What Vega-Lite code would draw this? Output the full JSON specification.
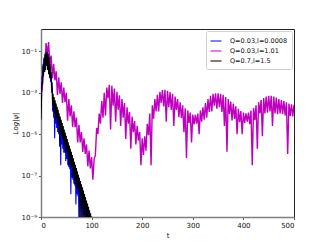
{
"$schema": "https://vega.github.io/schema/vega-lite/v6.json",
"autosize": {"type": "none"},
"padding": {"left": 41, "top": 29, "right": 33, "bottom": 28},
"width": 253,
"height": 188,
"datasets": {
"blue": [
{"t":0,"v":2.5e-4},{"t":1,"v":1.0e-3},{"t":2,"v":6.3e-3},{"t":3,"v":3.2e-3},{"t":4,"v":2.5e-2},{"t":5,"v":7.9e-3},{"t":6,"v":5.0e-2},{"t":7,"v":1.26e-2},{"t":8,"v":7.9e-2},{"t":9,"v":1.6e-2},
{"t":10,"v":0.105},{"t":11,"v":2.5e-2},{"t":12,"v":0.112},{"t":13,"v":1.6e-2},{"t":14,"v":7.9e-2},{"t":15,"v":1.0e-2},{"t":16,"v":4.5e-2},{"t":17,"v":5.0e-3},{"t":18,"v":2.0e-2},{"t":19,"v":3.2e-3},
{"t":20,"v":7.9e-3},{"t":21,"v":1.0e-3},{"t":22,"v":2.0e-3},{"t":23,"v":1.26e-4},{"t":24,"v":6.3e-4},{"t":25,"v":6.3e-5},{"t":26,"v":4.4e-4},{"t":27,"v":6.3e-6},{"t":28,"v":3.1e-4},{"t":29,"v":3.2e-5},
{"t":30,"v":2.1e-4},{"t":31,"v":2.0e-5},{"t":32,"v":1.5e-4},{"t":33,"v":1.26e-5},{"t":34,"v":1.05e-4},{"t":35,"v":1.0e-5},{"t":36,"v":7.2e-5},{"t":37,"v":5.0e-6},{"t":38,"v":5.1e-5},{"t":39,"v":3.2e-7},
{"t":40,"v":3.5e-5},{"t":41,"v":3.2e-6},{"t":42,"v":2.5e-5},{"t":43,"v":2.0e-6},{"t":44,"v":1.7e-5},{"t":45,"v":1.26e-6},{"t":46,"v":1.2e-5},{"t":47,"v":1.26e-6},{"t":48,"v":8.5e-6},{"t":49,"v":5.0e-7},
{"t":50,"v":5.9e-6},{"t":51,"v":6.3e-7},{"t":52,"v":4.2e-6},{"t":53,"v":3.2e-7},{"t":54,"v":2.9e-6},{"t":55,"v":2.5e-7},{"t":56,"v":2.0e-6},{"t":57,"v":2.0e-7},{"t":58,"v":1.4e-6},{"t":59,"v":1.26e-8},
{"t":60,"v":9.8e-7},{"t":61,"v":7.9e-8},{"t":62,"v":6.9e-7},{"t":63,"v":6.3e-8},{"t":64,"v":4.8e-7},{"t":65,"v":4.0e-8},{"t":66,"v":3.3e-7},{"t":67,"v":3.2e-8},{"t":68,"v":2.3e-7},{"t":69,"v":4.0e-9},
{"t":70,"v":1.6e-7},{"t":71,"v":1.26e-8},{"t":72,"v":1.1e-7},{"t":73,"v":1.0e-8},{"t":74,"v":7.9e-8},{"t":75,"v":3.2e-10},{"t":76,"v":5.5e-8},{"t":77,"v":5.0e-9},{"t":78,"v":3.9e-8},{"t":79,"v":3.2e-10},
{"t":80,"v":2.7e-8},{"t":81,"v":2.5e-9},{"t":82,"v":1.9e-8},{"t":83,"v":3.2e-10},{"t":84,"v":1.3e-8},{"t":85,"v":1.26e-9},{"t":86,"v":9.1e-9},{"t":87,"v":3.2e-10},{"t":88,"v":6.5e-9},{"t":89,"v":5.0e-10},
{"t":90,"v":4.5e-9},{"t":91,"v":3.2e-10},{"t":92,"v":3.2e-9},{"t":93,"v":3.2e-10},{"t":94,"v":2.2e-9},{"t":95,"v":3.2e-10},{"t":96,"v":1.4e-9},{"t":97,"v":3.2e-10}
],
"magenta": [
{"t":0,"v":1.0e-3},{"t":2.5,"v":1.6e-3},{"t":5,"v":1.6e-2},{"t":7.5,"v":1.26e-2},{"t":10,"v":0.25},{"t":12.5,"v":7.1e-2},{"t":15,"v":0.28},{"t":17.5,"v":2.2e-2},{"t":20,"v":6.3e-2},{"t":22.5,"v":5.0e-3},
{"t":25,"v":2.5e-2},{"t":27.5,"v":4.0e-3},{"t":30,"v":1.1e-2},{"t":32.5,"v":7.9e-4},{"t":35,"v":5.6e-3},{"t":37.5,"v":8.9e-4},{"t":40,"v":3.2e-3},{"t":42.5,"v":3.2e-4},{"t":45,"v":1.8e-3},{"t":47.5,"v":3.5e-4},
{"t":50,"v":1.0e-3},{"t":52.5,"v":4.5e-5},{"t":55,"v":5.0e-4},{"t":57.5,"v":7.1e-5},{"t":60,"v":2.5e-4},{"t":62.5,"v":2.2e-5},{"t":65,"v":1.26e-4},{"t":67.5,"v":2.2e-5},{"t":70,"v":6.3e-5},{"t":72.5,"v":4.0e-6},
{"t":75,"v":2.8e-5},{"t":77.5,"v":4.0e-6},{"t":80,"v":1.26e-5},{"t":82.5,"v":1.4e-6},{"t":85,"v":6.3e-6},{"t":87.5,"v":1.1e-6},{"t":90,"v":3.2e-6},{"t":92.5,"v":2.8e-7},{"t":95,"v":1.6e-6},{"t":97.5,"v":2.2e-7},
{"t":100,"v":7.9e-7},{"t":102.5,"v":6.3e-8},{"t":105,"v":6.3e-7},{"t":107.5,"v":1.0e-6},{"t":110,"v":2.0e-5},{"t":112.5,"v":1.0e-5},{"t":115,"v":1.0e-4},{"t":117.5,"v":3.2e-5},{"t":120,"v":4.0e-4},{"t":122.5,"v":6.3e-5},
{"t":125,"v":1.0e-3},{"t":127.5,"v":7.9e-5},{"t":130,"v":1.8e-3},{"t":132.5,"v":5.4e-4},{"t":135,"v":2.4e-3},{"t":137.5,"v":1.7e-5},{"t":140,"v":2.2e-3},{"t":142.5,"v":2.4e-4},{"t":145,"v":1.6e-3},{"t":147.5,"v":4.0e-5},
{"t":150,"v":1.1e-3},{"t":152.5,"v":1.5e-4},{"t":155,"v":7.6e-4},{"t":157.5,"v":2.5e-5},{"t":160,"v":5.0e-4},{"t":162.5,"v":6.3e-5},{"t":165,"v":3.2e-4},{"t":167.5,"v":5.8e-6},{"t":170,"v":2.0e-4},{"t":172.5,"v":3.2e-5},
{"t":175,"v":1.2e-4},{"t":177.5,"v":2.0e-6},{"t":180,"v":7.1e-5},{"t":182.5,"v":1.26e-5},{"t":185,"v":4.3e-5},{"t":187.5,"v":3.2e-6},{"t":190,"v":2.5e-5},{"t":192.5,"v":5.0e-6},{"t":195,"v":1.26e-5},{"t":197.5,"v":3.2e-7},
{"t":200,"v":6.3e-6},{"t":202.5,"v":1.0e-6},{"t":205,"v":7.9e-6},{"t":207.5,"v":1.6e-6},{"t":210,"v":3.2e-5},{"t":212.5,"v":8.9e-6},{"t":215,"v":1.0e-4},{"t":217.5,"v":3.2e-7},{"t":220,"v":2.5e-4},{"t":222.5,"v":5.6e-5},
{"t":225,"v":5.0e-4},{"t":227.5,"v":1.26e-4},{"t":230,"v":7.9e-4},{"t":232.5,"v":1.26e-4},{"t":235,"v":1.1e-3},{"t":237.5,"v":3.2e-4},{"t":240,"v":1.35e-3},{"t":242.5,"v":2.2e-4},{"t":245,"v":1.4e-3},{"t":247.5,"v":4.0e-5},
{"t":250,"v":1.26e-3},{"t":252.5,"v":2.0e-4},{"t":255,"v":1.07e-3},{"t":257.5,"v":1.5e-4},{"t":260,"v":8.9e-4},{"t":262.5,"v":2.5e-5},{"t":265,"v":6.6e-4},{"t":267.5,"v":1.5e-4},{"t":270,"v":5.0e-4},{"t":272.5,"v":6.6e-5},
{"t":275,"v":3.5e-4},{"t":277.5,"v":6.0e-5},{"t":280,"v":2.5e-4},{"t":282.5,"v":1.26e-5},{"t":285,"v":1.8e-4},{"t":287.5,"v":7.1e-7},{"t":290,"v":1.4e-4},{"t":292.5,"v":3.5e-5},{"t":295,"v":1.1e-4},{"t":297.5,"v":4.0e-6},
{"t":300,"v":8.9e-5},{"t":302.5,"v":3.0e-5},{"t":305,"v":8.5e-5},{"t":307.5,"v":3.2e-5},{"t":310,"v":1.0e-4},{"t":312.5,"v":1.0e-5},{"t":315,"v":1.4e-4},{"t":317.5,"v":4.0e-5},{"t":320,"v":2.0e-4},{"t":322.5,"v":5.0e-5},
{"t":325,"v":3.2e-4},{"t":327.5,"v":6.3e-5},{"t":330,"v":5.0e-4},{"t":332.5,"v":1.2e-4},{"t":335,"v":7.1e-4},{"t":337.5,"v":1.26e-4},{"t":340,"v":8.9e-4},{"t":342.5,"v":2.4e-4},{"t":345,"v":9.5e-4},{"t":347.5,"v":1.7e-4},
{"t":350,"v":9.5e-4},{"t":352.5,"v":2.0e-4},{"t":355,"v":8.9e-4},{"t":357.5,"v":1.2e-4},{"t":360,"v":7.9e-4},{"t":362.5,"v":2.5e-5},{"t":365,"v":6.3e-4},{"t":367.5,"v":1.4e-6},{"t":370,"v":5.0e-4},{"t":372.5,"v":9.5e-5},
{"t":375,"v":3.8e-4},{"t":377.5,"v":4.6e-5},{"t":380,"v":3.0e-4},{"t":382.5,"v":5.5e-5},{"t":385,"v":2.2e-4},{"t":387.5,"v":1.0e-5},{"t":390,"v":1.7e-4},{"t":392.5,"v":3.8e-5},{"t":395,"v":1.3e-4},{"t":397.5,"v":1.0e-5},
{"t":400,"v":1.1e-4},{"t":402.5,"v":3.5e-5},{"t":405,"v":1.0e-4},{"t":407.5,"v":4.0e-5},{"t":410,"v":1.1e-4},{"t":412.5,"v":3.0e-5},{"t":415,"v":1.4e-4},{"t":417.5,"v":3.2e-7},{"t":420,"v":1.8e-4},{"t":422.5,"v":4.8e-5},
{"t":425,"v":2.5e-4},{"t":427.5,"v":2.0e-6},{"t":430,"v":3.5e-4},{"t":432.5,"v":1.0e-4},{"t":435,"v":4.5e-4},{"t":437.5,"v":7.9e-6},{"t":440,"v":5.6e-4},{"t":442.5,"v":1.0e-4},{"t":445,"v":6.5e-4},{"t":447.5,"v":1.1e-4},
{"t":450,"v":7.1e-4},{"t":452.5,"v":1.26e-4},{"t":455,"v":7.1e-4},{"t":457.5,"v":2.5e-5},{"t":460,"v":6.5e-4},{"t":462.5,"v":1.0e-4},{"t":465,"v":5.8e-4},{"t":467.5,"v":9.3e-5},{"t":470,"v":5.0e-4},{"t":472.5,"v":1.0e-4},
{"t":475,"v":4.5e-4},{"t":477.5,"v":9.5e-5},{"t":480,"v":4.0e-4},{"t":482.5,"v":8.0e-5},{"t":485,"v":3.5e-4},{"t":487.5,"v":1.1e-6},{"t":490,"v":3.0e-4},{"t":492.5,"v":7.6e-5},{"t":495,"v":2.8e-4},{"t":497.5,"v":7.2e-5},
{"t":500,"v":2.6e-4}
],
"black": [
{"t":0,"v":5.0e-5},{"t":1,"v":4.0e-4},{"t":2,"v":3.2e-3},{"t":3,"v":2.5e-3},{"t":4,"v":2.0e-2},{"t":5,"v":6.3e-3},{"t":6,"v":4.5e-2},{"t":7,"v":1.0e-2},{"t":8,"v":7.1e-2},{"t":9,"v":1.26e-2},
{"t":10,"v":8.9e-2},{"t":11,"v":2.0e-2},{"t":12,"v":9.5e-2},{"t":13,"v":1.26e-2},{"t":14,"v":7.6e-2},{"t":15,"v":7.9e-3},{"t":16,"v":5.0e-2},{"t":17,"v":6.3e-3},{"t":18,"v":2.5e-2},{"t":19,"v":5.0e-3},
{"t":20,"v":1.0e-2},{"t":21,"v":2.0e-3},{"t":22,"v":3.2e-3},{"t":23,"v":2.5e-4},{"t":24,"v":8.9e-4},{"t":25,"v":1.26e-4},{"t":26,"v":6.2e-4},{"t":27,"v":1.0e-4},{"t":28,"v":4.4e-4},{"t":29,"v":5.0e-5},
{"t":30,"v":3.0e-4},{"t":31,"v":6.3e-5},{"t":32,"v":2.1e-4},{"t":33,"v":3.2e-5},{"t":34,"v":1.5e-4},{"t":35,"v":2.5e-5},{"t":36,"v":1.0e-4},{"t":37,"v":2.5e-6},{"t":38,"v":7.2e-5},{"t":39,"v":1.26e-5},
{"t":40,"v":5.0e-5},{"t":41,"v":7.9e-6},{"t":42,"v":3.5e-5},{"t":43,"v":6.3e-6},{"t":44,"v":2.5e-5},{"t":45,"v":2.5e-6},{"t":46,"v":1.7e-5},{"t":47,"v":3.2e-6},{"t":48,"v":1.2e-5},{"t":49,"v":1.26e-6},
{"t":50,"v":8.3e-6},{"t":51,"v":1.6e-6},{"t":52,"v":5.9e-6},{"t":53,"v":1.0e-6},{"t":54,"v":4.1e-6},{"t":55,"v":3.2e-7},{"t":56,"v":2.8e-6},{"t":57,"v":5.0e-7},{"t":58,"v":2.0e-6},{"t":59,"v":2.5e-7},
{"t":60,"v":1.4e-6},{"t":61,"v":2.5e-7},{"t":62,"v":9.8e-7},{"t":63,"v":7.9e-8},{"t":64,"v":6.8e-7},{"t":65,"v":1.26e-7},{"t":66,"v":4.7e-7},{"t":67,"v":4.0e-8},{"t":68,"v":3.3e-7},{"t":69,"v":6.3e-8},
{"t":70,"v":2.3e-7},{"t":71,"v":2.5e-8},{"t":72,"v":1.6e-7},{"t":73,"v":2.5e-8},{"t":74,"v":1.1e-7},{"t":75,"v":1.6e-8},{"t":76,"v":7.8e-8},{"t":77,"v":3.2e-10},{"t":78,"v":5.5e-8},{"t":79,"v":1.0e-8},
{"t":80,"v":3.8e-8},{"t":81,"v":3.2e-10},{"t":82,"v":2.7e-8},{"t":83,"v":5.0e-9},{"t":84,"v":1.9e-8},{"t":85,"v":3.2e-10},{"t":86,"v":1.3e-8},{"t":87,"v":2.5e-9},{"t":88,"v":9.1e-9},{"t":89,"v":3.2e-10},
{"t":90,"v":6.3e-9},{"t":91,"v":1.0e-9},{"t":92,"v":4.5e-9},{"t":93,"v":3.2e-10},{"t":94,"v":3.1e-9},{"t":95,"v":5.0e-10},{"t":96,"v":2.1e-9},{"t":97,"v":3.2e-10},{"t":98,"v":1.5e-9},{"t":99,"v":3.2e-10},
{"t":100,"v":1.05e-9}
]
},
"encoding": {
"x": {"field": "t", "type": "quantitative", "scale": {"domain": [0, 500], "nice": false, "zero": false},
 "axis": {"title": "t", "values": [0, 100, 200, 300, 400, 500], "format": "d", "grid": false}},
"y": {"field": "v", "type": "quantitative", "scale": {"type": "log", "domain": [1e-9, 1.2], "nice": false},
 "axis": {"title": "Log|ψ|", "titleFontStyle": "italic", "values": [1e-9, 1e-7, 1e-5, 1e-3, 1e-1], "grid": false,
  "labelExpr": "'10' + replace(replace(replace(replace(replace(replace(toString(round(log(datum.value)/LN10)),'-','⁻'),'1','¹'),'3','³'),'5','⁵'),'7','⁷'),'9','⁹')"}}
},
"layer": [
{"data": {"name": "blue"}, "mark": {"type": "line", "clip": true, "strokeWidth": 1.1},
 "encoding": {"color": {"datum": "Q=0.03,l=0.0008", "type": "nominal",
  "scale": {"domain": ["Q=0.03,l=0.0008", "Q=0.03,l=1.01", "Q=0.7,l=1.5"], "range": ["#0000ff", "#bf00bf", "#000000"]},
  "legend": {"title": null}}}},
{"data": {"name": "magenta"}, "mark": {"type": "line", "clip": true, "strokeWidth": 1.4},
 "encoding": {"color": {"datum": "Q=0.03,l=1.01", "type": "nominal"}}},
{"data": {"name": "black"}, "mark": {"type": "line", "clip": true, "strokeWidth": 1.1},
 "encoding": {"color": {"datum": "Q=0.7,l=1.5", "type": "nominal"}}}
],
"config": {
"font": "DejaVu Sans",
"view": {"stroke": "#222", "strokeWidth": 1},
"axis": {"labelFontSize": 7, "titleFontSize": 7, "titleFontWeight": "normal", "labelColor": "#111", "titleColor": "#111",
 "domainColor": "#808080", "domainWidth": 1.5, "tickColor": "#333", "tickSize": 2.5, "tickWidth": 0.8, "labelPadding": 2, "titlePadding": 3},
"legend": {"orient": "top-right", "offset": 2, "padding": 4, "strokeColor": "#d0d0d0", "fillColor": "white", "cornerRadius": 2,
 "symbolType": "stroke", "symbolSize": 121, "symbolStrokeWidth": 1, "labelFontSize": 6.5, "labelColor": "#111", "rowPadding": 0, "labelOffset": 8}
}
}
